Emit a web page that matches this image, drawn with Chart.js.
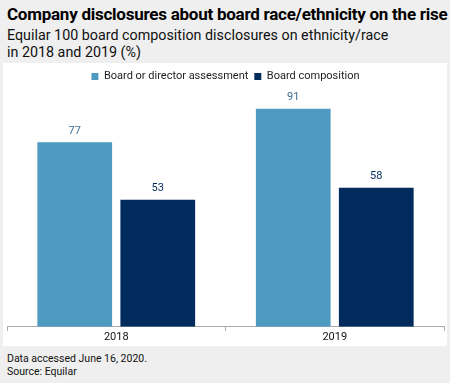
<!DOCTYPE html>
<html>
<head>
<meta charset="utf-8">
<script src="https://cdn.jsdelivr.net/npm/chart.js@4.4.0/dist/chart.umd.min.js"></script>
<style>
  html, body { margin: 0; padding: 0; }
  body { width: 450px; height: 383px; background: #efefef; font-family: Roboto, "Liberation Sans", sans-serif; color: #000; overflow: hidden; position: relative; }
  #title { position: absolute; left: 7px; top: 4px; font-size: 17px; font-weight: bold; letter-spacing: -0.25px; white-space: nowrap; }
  #subtitle { position: absolute; left: 7px; top: 27px; font-size: 14.3px; line-height: 17px; color: #111; }
  #panel { position: absolute; left: 3px; top: 63px; width: 444px; height: 283px; background: #fff; }
  #footer { position: absolute; left: 7px; top: 352px; font-size: 10.5px; line-height: 13px; color: #111; }
</style>
</head>
<body>
<div id="title">Company disclosures about board race/ethnicity on the rise</div>
<div id="subtitle">Equilar 100 board composition disclosures on ethnicity/race<br>in 2018 and 2019 (%)</div>
<div id="panel"><canvas id="boardChart" width="444" height="283"></canvas></div>
<div id="footer">Data accessed June 16, 2020.<br>Source: Equilar</div>
<script>
const years = ['2018', '2019'];
const assessmentValues = [77, 91];
const compositionValues = [53, 58];
const seriesNames = ['Board or director assessment', 'Board composition'];

// draws the value above each bar
const valueLabels = {
    id: 'valueLabels',
    afterDatasetsDraw(chart) {
        const ctx = chart.ctx;
        ctx.save();
        ctx.font = '11px Roboto, "Liberation Sans", sans-serif';
        ctx.textAlign = 'center';
        ctx.textBaseline = 'bottom';
        chart.data.datasets.forEach((ds, i) => {
            const meta = chart.getDatasetMeta(i);
            ctx.fillStyle = ds.labelColor;
            meta.data.forEach((bar, j) => {
                ctx.fillText(ds.data[j], bar.x, bar.y - 6);
            });
        });
        ctx.restore();
    }
};

document.addEventListener('DOMContentLoaded', function() {
    const ctx = document.getElementById('boardChart').getContext('2d');
    new Chart(ctx, {
        type: 'bar',
        data: {
            labels: years,
            datasets: [{
                label: seriesNames[0],
                data: assessmentValues,
                backgroundColor: '#4e9ac1',
                labelColor: '#3b6f98',
                categoryPercentage: 0.76,
                barPercentage: 0.9
            }, {
                label: seriesNames[1],
                data: compositionValues,
                backgroundColor: '#002b5c',
                labelColor: '#002b5c',
                categoryPercentage: 0.76,
                barPercentage: 0.9
            }]
        },
        options: {
            responsive: false,
            animation: false,
            layout: { padding: { left: 4, right: 3, top: 2, bottom: 2 } },
            scales: {
                x: {
                    border: { color: '#aaaaaa', width: 1 },
                    grid: { drawOnChartArea: false, drawTicks: true, tickLength: 4, color: '#aaaaaa' },
                    ticks: { color: '#111', font: { size: 11, family: 'Roboto' }, padding: 0 }
                },
                y: {
                    display: false,
                    min: 0,
                    max: 98
                }
            },
            plugins: {
                legend: {
                    display: true,
                    position: 'top',
                    labels: { boxWidth: 7, boxHeight: 7, color: '#222', font: { size: 11, family: 'Roboto' }, padding: 6 }
                },
                tooltip: { enabled: false }
            }
        },
        plugins: [valueLabels]
    });
});
</script>
</body>
</html>
